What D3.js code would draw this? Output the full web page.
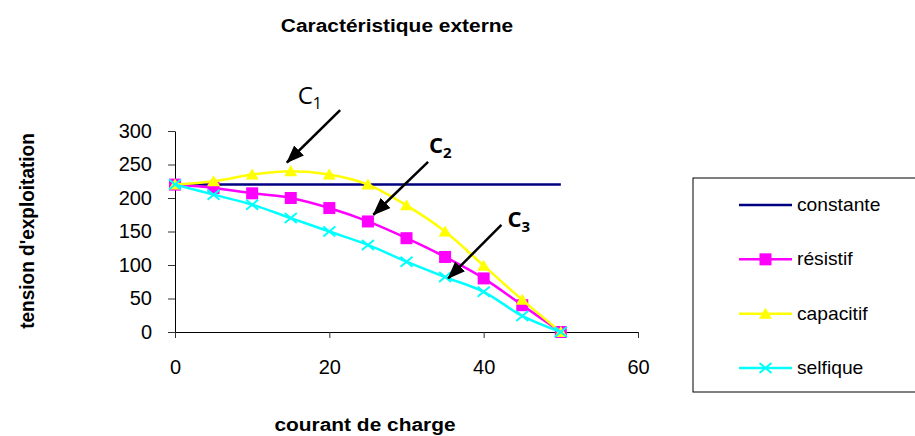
<!DOCTYPE html>
<html>
<head>
<meta charset="utf-8">
<script src="https://cdn.jsdelivr.net/npm/d3@7"></script>
<style>
  body { margin: 0; background: #fff; }
  svg { display: block; font-family: "Liberation Sans", Arial, sans-serif; }
</style>
</head>
<body>
<svg width="915" height="436"></svg>
<script>
// courant de charge
const courant = [0, 5, 10, 15, 20, 25, 30, 35, 40, 45, 50];
const constante = [220, 220, 220, 220, 220, 220, 220, 220, 220, 220, 220];
const resistif = [220, 215, 207, 200, 185, 165, 140, 112, 80, 40, 0];
const capacitif = [220, 225, 235, 240, 235, 220, 189, 150, 99, 48, 0];
const selfique = [220, 205, 190, 170, 150, 130, 105, 82, 60, 24, 0];
const xTicks = [0, 20, 40, 60];
const yTicks = [0, 50, 100, 150, 200, 250, 300];

// annotations C1..C3 (data units): label, sub, bold, label pos, arrow start, arrow tip
const notes = [
    { name: 'C', sub: '1', bold: false, lx: 15.9, ly: 340, x1: 21.4, y1: 331, x2: 14.5, y2: 253 },
    { name: 'C', sub: '2', bold: true, lx: 32.9, ly: 267, x1: 32.8, y1: 254, x2: 25.7, y2: 175 },
    { name: 'C', sub: '3', bold: true, lx: 43.1, ly: 156, x1: 42.3, y1: 160, x2: 35.4, y2: 80 }
];

const svg = d3.select('svg');

const x = d3.scaleLinear().domain([0, 60]).range([175, 638]);
const y = d3.scaleLinear().domain([0, 300]).range([332, 131]);

const series = [
    { name: 'constante', values: constante, color: '#000080', marker: 'none' },
    { name: 'résistif', values: resistif, color: '#ff00ff', marker: 'square' },
    { name: 'capacitif', values: capacitif, color: '#ffff00', marker: 'triangle' },
    { name: 'selfique', values: selfique, color: '#00ffff', marker: 'cross' }
];

// title
svg.append('text')
    .attr('transform', 'translate(397,32) scale(1.1,1)')
    .attr('text-anchor', 'middle')
    .attr('font-weight', 'bold')
    .attr('font-size', 19)
    .text('Caractéristique externe');

// axes
const yAxis = svg.append('g')
    .attr('transform', `translate(${x(0)},0)`)
    .call(d3.axisLeft(y).tickValues(yTicks).tickSize(7).tickPadding(16).tickSizeOuter(0));
const xAxis = svg.append('g')
    .attr('transform', `translate(0,${y(0)})`)
    .call(d3.axisBottom(x).tickValues(xTicks).tickSize(6).tickPadding(22).tickSizeOuter(0));

[xAxis, yAxis].forEach(a => {
    a.select('.domain').attr('stroke', '#000');
    a.selectAll('.tick line').attr('stroke', '#333');
    a.selectAll('.tick text')
        .attr('font-family', '"Liberation Sans", Arial, sans-serif')
        .attr('font-size', 20)
        .attr('fill', '#000');
});

// axis titles
svg.append('text')
    .attr('transform', 'translate(365,431) scale(1.1,1)')
    .attr('text-anchor', 'middle')
    .attr('font-weight', 'bold')
    .attr('font-size', 19)
    .text('courant de charge');
svg.append('text')
    .attr('transform', 'translate(34,231) rotate(-90) scale(1,1.1)')
    .attr('text-anchor', 'middle')
    .attr('font-weight', 'bold')
    .attr('font-size', 19)
    .text("tension d'exploitation");

// lines
const line = d3.line()
    .x((d, i) => x(courant[i]))
    .y(d => y(d))
    .curve(d3.curveCardinal.tension(0));

function drawMarker(g, type, color) {
    if (type === 'square') {
        g.append('rect').attr('x', -6).attr('y', -6).attr('width', 12).attr('height', 12)
            .attr('fill', color);
    } else if (type === 'triangle') {
        g.append('path').attr('d', 'M0,-6L6.5,5L-6.5,5Z').attr('fill', color);
    } else if (type === 'cross') {
        g.append('path').attr('d', 'M-6,-5L6,5M-6,5L6,-5')
            .attr('stroke', color).attr('stroke-width', 2).attr('fill', 'none');
    }
}

series.forEach(s => {
    svg.append('path')
        .attr('d', line(s.values))
        .attr('fill', 'none')
        .attr('stroke', s.color)
        .attr('stroke-width', 2.5);
    s.values.forEach((v, i) => {
        const g = svg.append('g').attr('transform', `translate(${x(courant[i])},${y(v)})`);
        drawMarker(g, s.marker, s.color);
    });
});

// legend
const legend = svg.append('g');
legend.append('rect')
    .attr('x', 693).attr('y', 178).attr('width', 240).attr('height', 214)
    .attr('fill', '#fff').attr('stroke', '#000').attr('stroke-width', 1);
const rowY = d3.scalePoint().domain(series.map(s => s.name)).range([205, 368]);
series.forEach(s => {
    const ry = rowY(s.name);
    legend.append('line')
        .attr('x1', 739).attr('x2', 792).attr('y1', ry).attr('y2', ry)
        .attr('stroke', s.color).attr('stroke-width', 2.5);
    drawMarker(legend.append('g').attr('transform', `translate(765.5,${ry})`), s.marker, s.color);
    legend.append('text')
        .attr('transform', `translate(797,${ry + 6}) scale(1.1,1)`)
        .attr('font-size', 17.5)
        .text(s.name);
});

// annotations
const defs = svg.append('defs');
defs.append('marker')
    .attr('id', 'arrow')
    .attr('markerUnits', 'userSpaceOnUse')
    .attr('viewBox', '0 0 18 14')
    .attr('refX', 17).attr('refY', 7)
    .attr('markerWidth', 18).attr('markerHeight', 14)
    .attr('orient', 'auto')
    .append('path').attr('d', 'M0,0L18,7L0,14Z').attr('fill', '#000');

notes.forEach(n => {
    svg.append('line')
        .attr('x1', x(n.x1)).attr('y1', y(n.y1))
        .attr('x2', x(n.x2)).attr('y2', y(n.y2))
        .attr('stroke', '#000').attr('stroke-width', 2.5)
        .attr('marker-end', 'url(#arrow)');
    const t = svg.append('text')
        .attr('x', x(n.lx)).attr('y', y(n.ly))
        .attr('font-family', '"Open Sans", sans-serif')
        .attr('font-weight', n.bold ? 'bold' : 'normal')
        .attr('font-size', n.bold ? 22 : 24);
    t.append('tspan').text(n.name);
    t.append('tspan').attr('dy', 5).attr('font-size', n.bold ? 15 : 16).text(n.sub);
});
</script>
</body>
</html>
